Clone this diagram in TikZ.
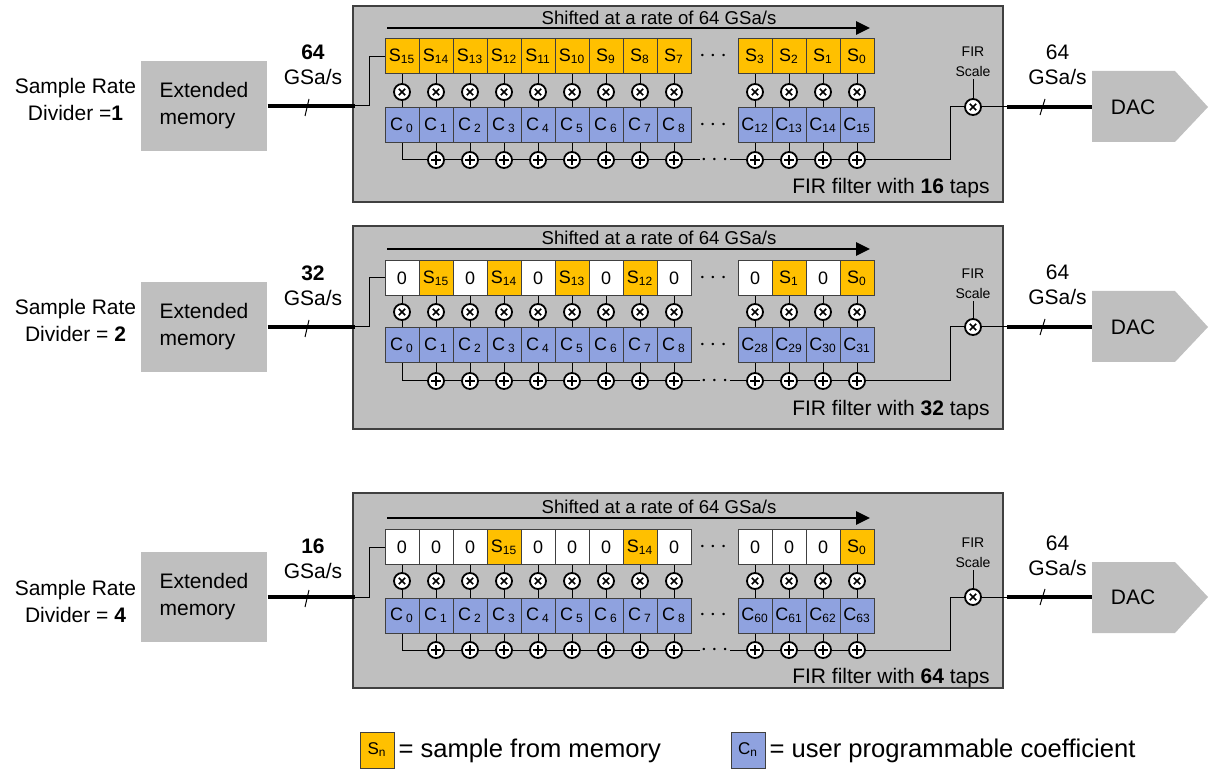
\documentclass[tikz,border=0pt]{standalone}
\usepackage{fontspec}
\setmainfont{Liberation Sans}
\usetikzlibrary{arrows.meta}
\definecolor{sgold}{HTML}{FFC000}
\definecolor{cblue}{HTML}{8FA2DF}
\definecolor{firgray}{HTML}{BFBFBF}
\definecolor{edgegray}{HTML}{404040}

\begin{document}
\begin{tikzpicture}[x=5pt, y=5pt, line width=0.5pt,
  panel/.style={fill=firgray, draw=edgegray, line width=0.6pt},
  scell/.style={draw=edgegray, fill=sgold, minimum width=17pt, minimum height=17.5pt, inner sep=0pt, font=\fontsize{9}{10}\selectfont},
  zcell/.style={scell, fill=white},
  ccell/.style={scell, fill=cblue},
  mul/.style={circle, draw, fill=white, line width=0.9pt, minimum size=8pt, inner sep=0pt, path picture={\draw[line width=0.8pt] ([shift={(-1.6pt,-1.6pt)}]path picture bounding box.center) -- ++(3.2pt,3.2pt) ++(-3.2pt,0pt) -- ++(3.2pt,-3.2pt);}},
  add/.style={circle, draw, fill=white, line width=0.9pt, minimum size=8pt, inner sep=0pt, path picture={\draw[line width=0.8pt] ([shift={(-2.4pt,0pt)}]path picture bounding box.center) -- ++(4.8pt,0pt) ++(-2.4pt,-2.4pt) -- ++(0pt,4.8pt);}},
  bus/.style={line width=1.6pt},
  shift arrow/.style={line width=1.4pt, -{Triangle[length=7pt,width=6.5pt]}},
  label text/.style={align=center, font=\fontsize{10.5}{13.5}\selectfont},
  membox/.style={fill=firgray, minimum width=63pt, minimum height=45pt, align=left, font=\fontsize{10.5}{13.5}\selectfont},
  rate text/.style={align=center, font=\fontsize{10.5}{12.5}\selectfont},
  shift text/.style={font=\fontsize{9.3}{11}\selectfont},
  scale text/.style={align=center, inner sep=1pt, font=\fontsize{7}{10}\selectfont},
  taps text/.style={anchor=east, inner sep=0pt, font=\fontsize{10.5}{12}\selectfont},
  dac text/.style={font=\fontsize{10.5}{12}\selectfont},
  dots/.style={inner sep=0pt, font=\fontsize{12}{12}\selectfont},
  gap dots/.style={dots, fill=firgray, inner sep=0.5pt},
  legend text/.style={anchor=west, inner sep=0pt, font=\fontsize{12.8}{14}\selectfont}]
\useasboundingbox (0,0) rectangle (121,-76.9);

% divider 1
\draw[panel] (35.3,-0.6) rectangle (100.3,-20.2);
\node[label text] (D1Lbl) at (7.55,-9.95) {Sample Rate\\Divider =\textbf{1}};
\node[membox] (D1Mem) at (20.4,-10.6) {Extended\\memory};
\node[rate text] (D1Rate) at (31.3,-6.45) {\textbf{64}\\GSa/s};
\coordinate (D1In) at (35.5,-10.6);
\coordinate (D1ShL) at (38.7,-2.8);
\coordinate (D1ShR) at (87.0,-2.8);
\draw[shift arrow] (D1ShL) -- (D1ShR);
\node[shift text] (D1Sh) at (65.9,-1.8) {Shifted at a rate of 64 GSa/s};
\node[scell] (D1T0) at (40.2,-5.65) {S\textsubscript{15}};
\node[scell] (D1T1) at (43.6,-5.65) {S\textsubscript{14}};
\node[scell] (D1T2) at (47.0,-5.65) {S\textsubscript{13}};
\node[scell] (D1T3) at (50.4,-5.65) {S\textsubscript{12}};
\node[scell] (D1T4) at (53.8,-5.65) {S\textsubscript{11}};
\node[scell] (D1T5) at (57.2,-5.65) {S\textsubscript{10}};
\node[scell] (D1T6) at (60.6,-5.65) {S\textsubscript{9}};
\node[scell] (D1T7) at (64.0,-5.65) {S\textsubscript{8}};
\node[scell] (D1T8) at (67.4,-5.65) {S\textsubscript{7}};
\node[dots] (D1DotT) at (71.3,-5.65) {$\cdots$};
\node[scell] (D1T9) at (75.5,-5.65) {S\textsubscript{3}};
\node[scell] (D1T10) at (78.9,-5.65) {S\textsubscript{2}};
\node[scell] (D1T11) at (82.3,-5.65) {S\textsubscript{1}};
\node[scell] (D1T12) at (85.7,-5.65) {S\textsubscript{0}};
\node[mul] (D1M0) at (40.2,-9.2) {};
\node[mul] (D1M1) at (43.6,-9.2) {};
\node[mul] (D1M2) at (47.0,-9.2) {};
\node[mul] (D1M3) at (50.4,-9.2) {};
\node[mul] (D1M4) at (53.8,-9.2) {};
\node[mul] (D1M5) at (57.2,-9.2) {};
\node[mul] (D1M6) at (60.6,-9.2) {};
\node[mul] (D1M7) at (64.0,-9.2) {};
\node[mul] (D1M8) at (67.4,-9.2) {};
\node[mul] (D1M9) at (75.5,-9.2) {};
\node[mul] (D1M10) at (78.9,-9.2) {};
\node[mul] (D1M11) at (82.3,-9.2) {};
\node[mul] (D1M12) at (85.7,-9.2) {};
\node[ccell] (D1C0) at (40.2,-12.55) {C\,\textsubscript{0}};
\node[ccell] (D1C1) at (43.6,-12.55) {C\,\textsubscript{1}};
\node[ccell] (D1C2) at (47.0,-12.55) {C\,\textsubscript{2}};
\node[ccell] (D1C3) at (50.4,-12.55) {C\,\textsubscript{3}};
\node[ccell] (D1C4) at (53.8,-12.55) {C\,\textsubscript{4}};
\node[ccell] (D1C5) at (57.2,-12.55) {C\,\textsubscript{5}};
\node[ccell] (D1C6) at (60.6,-12.55) {C\,\textsubscript{6}};
\node[ccell] (D1C7) at (64.0,-12.55) {C\,\textsubscript{7}};
\node[ccell] (D1C8) at (67.4,-12.55) {C\,\textsubscript{8}};
\node[dots] (D1DotC) at (71.3,-12.55) {$\cdots$};
\node[ccell] (D1C9) at (75.5,-12.55) {C\textsubscript{12}};
\node[ccell] (D1C10) at (78.9,-12.55) {C\textsubscript{13}};
\node[ccell] (D1C11) at (82.3,-12.55) {C\textsubscript{14}};
\node[ccell] (D1C12) at (85.7,-12.55) {C\textsubscript{15}};
\node[add] (D1A1) at (43.6,-16.0) {};
\node[add] (D1A2) at (47.0,-16.0) {};
\node[add] (D1A3) at (50.4,-16.0) {};
\node[add] (D1A4) at (53.8,-16.0) {};
\node[add] (D1A5) at (57.2,-16.0) {};
\node[add] (D1A6) at (60.6,-16.0) {};
\node[add] (D1A7) at (64.0,-16.0) {};
\node[add] (D1A8) at (67.4,-16.0) {};
\node[add] (D1A9) at (75.5,-16.0) {};
\node[add] (D1A10) at (78.9,-16.0) {};
\node[add] (D1A11) at (82.3,-16.0) {};
\node[add] (D1A12) at (85.7,-16.0) {};
\draw[bus] (D1Mem) -- (D1In);
\draw (30.5,-11.6) -- (30.9,-9.9);
\draw (D1In) -| (36.9,-5.65) -- (D1T0);
\draw (D1T0) -- (D1M0) -- (D1C0);
\draw (D1T1) -- (D1M1) -- (D1C1);
\draw (D1T2) -- (D1M2) -- (D1C2);
\draw (D1T3) -- (D1M3) -- (D1C3);
\draw (D1T4) -- (D1M4) -- (D1C4);
\draw (D1T5) -- (D1M5) -- (D1C5);
\draw (D1T6) -- (D1M6) -- (D1C6);
\draw (D1T7) -- (D1M7) -- (D1C7);
\draw (D1T8) -- (D1M8) -- (D1C8);
\draw (D1T9) -- (D1M9) -- (D1C9);
\draw (D1T10) -- (D1M10) -- (D1C10);
\draw (D1T11) -- (D1M11) -- (D1C11);
\draw (D1T12) -- (D1M12) -- (D1C12);
\draw (D1C0) |- (D1A1);
\draw (D1C1) -- (D1A1);
\draw (D1C2) -- (D1A2);
\draw (D1C3) -- (D1A3);
\draw (D1C4) -- (D1A4);
\draw (D1C5) -- (D1A5);
\draw (D1C6) -- (D1A6);
\draw (D1C7) -- (D1A7);
\draw (D1C8) -- (D1A8);
\draw (D1C9) -- (D1A9);
\draw (D1C10) -- (D1A10);
\draw (D1C11) -- (D1A11);
\draw (D1C12) -- (D1A12);
\draw (D1A1) -- (D1A2) -- (D1A3) -- (D1A4) -- (D1A5) -- (D1A6) -- (D1A7) -- (D1A8);
\draw (D1A8) -- node[gap dots] {$\cdots$} (D1A9);
\draw (D1A9) -- (D1A10) -- (D1A11) -- (D1A12);
\node[scale text] (D1FS) at (97.3,-6.2) {FIR\\Scale};
\node[mul] (D1F) at (97.3,-10.7) {};
\draw (D1FS) -- (D1F);
\draw (D1A12) -- (95.0,-16.0) |- (D1F);
\coordinate (D1Out) at (100.7,-10.7);
\coordinate (D1DACin) at (109.2,-10.7);
\fill[firgray] (109.2,-7.1) -- (117.5,-7.1) -- (120.8,-10.7) -- (117.5,-14.2) -- (109.2,-14.2) -- cycle;
\node[dac text] (D1DAC) at (113.3,-10.7) {DAC};
\draw (D1F) -- (D1Out);
\draw[bus] (D1Out) -- (D1DACin);
\draw (104.0,-11.5) -- (104.5,-9.9);
\node[rate text] (D1OutRate) at (105.75,-6.45) {64\\GSa/s};
\node[taps text] (D1Taps) at (99.0,-18.8) {FIR filter with \textbf{16} taps};

% divider 2
\draw[panel] (35.3,-22.6) rectangle (100.3,-42.9);
\node[label text] (D2Lbl) at (7.55,-32.0) {Sample Rate\\Divider = \textbf{2}};
\node[membox] (D2Mem) at (20.4,-32.7) {Extended\\memory};
\node[rate text] (D2Rate) at (31.3,-28.55) {\textbf{32}\\GSa/s};
\coordinate (D2In) at (35.5,-32.7);
\coordinate (D2ShL) at (38.7,-24.9);
\coordinate (D2ShR) at (87.0,-24.9);
\draw[shift arrow] (D2ShL) -- (D2ShR);
\node[shift text] (D2Sh) at (65.9,-23.8) {Shifted at a rate of 64 GSa/s};
\node[zcell] (D2T0) at (40.2,-27.8) {0};
\node[scell] (D2T1) at (43.6,-27.8) {S\textsubscript{15}};
\node[zcell] (D2T2) at (47.0,-27.8) {0};
\node[scell] (D2T3) at (50.4,-27.8) {S\textsubscript{14}};
\node[zcell] (D2T4) at (53.8,-27.8) {0};
\node[scell] (D2T5) at (57.2,-27.8) {S\textsubscript{13}};
\node[zcell] (D2T6) at (60.6,-27.8) {0};
\node[scell] (D2T7) at (64.0,-27.8) {S\textsubscript{12}};
\node[zcell] (D2T8) at (67.4,-27.8) {0};
\node[dots] (D2DotT) at (71.3,-27.8) {$\cdots$};
\node[zcell] (D2T9) at (75.5,-27.8) {0};
\node[scell] (D2T10) at (78.9,-27.8) {S\textsubscript{1}};
\node[zcell] (D2T11) at (82.3,-27.8) {0};
\node[scell] (D2T12) at (85.7,-27.8) {S\textsubscript{0}};
\node[mul] (D2M0) at (40.2,-31.2) {};
\node[mul] (D2M1) at (43.6,-31.2) {};
\node[mul] (D2M2) at (47.0,-31.2) {};
\node[mul] (D2M3) at (50.4,-31.2) {};
\node[mul] (D2M4) at (53.8,-31.2) {};
\node[mul] (D2M5) at (57.2,-31.2) {};
\node[mul] (D2M6) at (60.6,-31.2) {};
\node[mul] (D2M7) at (64.0,-31.2) {};
\node[mul] (D2M8) at (67.4,-31.2) {};
\node[mul] (D2M9) at (75.5,-31.2) {};
\node[mul] (D2M10) at (78.9,-31.2) {};
\node[mul] (D2M11) at (82.3,-31.2) {};
\node[mul] (D2M12) at (85.7,-31.2) {};
\node[ccell] (D2C0) at (40.2,-34.55) {C\,\textsubscript{0}};
\node[ccell] (D2C1) at (43.6,-34.55) {C\,\textsubscript{1}};
\node[ccell] (D2C2) at (47.0,-34.55) {C\,\textsubscript{2}};
\node[ccell] (D2C3) at (50.4,-34.55) {C\,\textsubscript{3}};
\node[ccell] (D2C4) at (53.8,-34.55) {C\,\textsubscript{4}};
\node[ccell] (D2C5) at (57.2,-34.55) {C\,\textsubscript{5}};
\node[ccell] (D2C6) at (60.6,-34.55) {C\,\textsubscript{6}};
\node[ccell] (D2C7) at (64.0,-34.55) {C\,\textsubscript{7}};
\node[ccell] (D2C8) at (67.4,-34.55) {C\,\textsubscript{8}};
\node[dots] (D2DotC) at (71.3,-34.55) {$\cdots$};
\node[ccell] (D2C9) at (75.5,-34.55) {C\textsubscript{28}};
\node[ccell] (D2C10) at (78.9,-34.55) {C\textsubscript{29}};
\node[ccell] (D2C11) at (82.3,-34.55) {C\textsubscript{30}};
\node[ccell] (D2C12) at (85.7,-34.55) {C\textsubscript{31}};
\node[add] (D2A1) at (43.6,-38.1) {};
\node[add] (D2A2) at (47.0,-38.1) {};
\node[add] (D2A3) at (50.4,-38.1) {};
\node[add] (D2A4) at (53.8,-38.1) {};
\node[add] (D2A5) at (57.2,-38.1) {};
\node[add] (D2A6) at (60.6,-38.1) {};
\node[add] (D2A7) at (64.0,-38.1) {};
\node[add] (D2A8) at (67.4,-38.1) {};
\node[add] (D2A9) at (75.5,-38.1) {};
\node[add] (D2A10) at (78.9,-38.1) {};
\node[add] (D2A11) at (82.3,-38.1) {};
\node[add] (D2A12) at (85.7,-38.1) {};
\draw[bus] (D2Mem) -- (D2In);
\draw (30.5,-33.7) -- (30.9,-32.0);
\draw (D2In) -| (36.9,-27.8) -- (D2T0);
\draw (D2T0) -- (D2M0) -- (D2C0);
\draw (D2T1) -- (D2M1) -- (D2C1);
\draw (D2T2) -- (D2M2) -- (D2C2);
\draw (D2T3) -- (D2M3) -- (D2C3);
\draw (D2T4) -- (D2M4) -- (D2C4);
\draw (D2T5) -- (D2M5) -- (D2C5);
\draw (D2T6) -- (D2M6) -- (D2C6);
\draw (D2T7) -- (D2M7) -- (D2C7);
\draw (D2T8) -- (D2M8) -- (D2C8);
\draw (D2T9) -- (D2M9) -- (D2C9);
\draw (D2T10) -- (D2M10) -- (D2C10);
\draw (D2T11) -- (D2M11) -- (D2C11);
\draw (D2T12) -- (D2M12) -- (D2C12);
\draw (D2C0) |- (D2A1);
\draw (D2C1) -- (D2A1);
\draw (D2C2) -- (D2A2);
\draw (D2C3) -- (D2A3);
\draw (D2C4) -- (D2A4);
\draw (D2C5) -- (D2A5);
\draw (D2C6) -- (D2A6);
\draw (D2C7) -- (D2A7);
\draw (D2C8) -- (D2A8);
\draw (D2C9) -- (D2A9);
\draw (D2C10) -- (D2A10);
\draw (D2C11) -- (D2A11);
\draw (D2C12) -- (D2A12);
\draw (D2A1) -- (D2A2) -- (D2A3) -- (D2A4) -- (D2A5) -- (D2A6) -- (D2A7) -- (D2A8);
\draw (D2A8) -- node[gap dots] {$\cdots$} (D2A9);
\draw (D2A9) -- (D2A10) -- (D2A11) -- (D2A12);
\node[scale text] (D2FS) at (97.3,-28.4) {FIR\\Scale};
\node[mul] (D2F) at (97.3,-32.7) {};
\draw (D2FS) -- (D2F);
\draw (D2A12) -- (95.0,-38.1) |- (D2F);
\coordinate (D2Out) at (100.7,-32.7);
\coordinate (D2DACin) at (109.2,-32.7);
\fill[firgray] (109.2,-29.1) -- (117.5,-29.1) -- (120.8,-32.7) -- (117.5,-36.2) -- (109.2,-36.2) -- cycle;
\node[dac text] (D2DAC) at (113.3,-32.7) {DAC};
\draw (D2F) -- (D2Out);
\draw[bus] (D2Out) -- (D2DACin);
\draw (104.0,-33.5) -- (104.5,-31.9);
\node[rate text] (D2OutRate) at (105.75,-28.45) {64\\GSa/s};
\node[taps text] (D2Taps) at (99.0,-41.0) {FIR filter with \textbf{32} taps};

% divider 4
\draw[panel] (35.3,-49.3) rectangle (100.3,-68.8);
\node[label text] (D3Lbl) at (7.55,-60.15) {Sample Rate\\Divider = \textbf{4}};
\node[membox] (D3Mem) at (20.4,-59.7) {Extended\\memory};
\node[rate text] (D3Rate) at (31.3,-55.9) {\textbf{16}\\GSa/s};
\coordinate (D3In) at (35.5,-59.7);
\coordinate (D3ShL) at (38.7,-51.8);
\coordinate (D3ShR) at (87.0,-51.8);
\draw[shift arrow] (D3ShL) -- (D3ShR);
\node[shift text] (D3Sh) at (65.9,-50.7) {Shifted at a rate of 64 GSa/s};
\node[zcell] (D3T0) at (40.2,-54.7) {0};
\node[zcell] (D3T1) at (43.6,-54.7) {0};
\node[zcell] (D3T2) at (47.0,-54.7) {0};
\node[scell] (D3T3) at (50.4,-54.7) {S\textsubscript{15}};
\node[zcell] (D3T4) at (53.8,-54.7) {0};
\node[zcell] (D3T5) at (57.2,-54.7) {0};
\node[zcell] (D3T6) at (60.6,-54.7) {0};
\node[scell] (D3T7) at (64.0,-54.7) {S\textsubscript{14}};
\node[zcell] (D3T8) at (67.4,-54.7) {0};
\node[dots] (D3DotT) at (71.3,-54.7) {$\cdots$};
\node[zcell] (D3T9) at (75.5,-54.7) {0};
\node[zcell] (D3T10) at (78.9,-54.7) {0};
\node[zcell] (D3T11) at (82.3,-54.7) {0};
\node[scell] (D3T12) at (85.7,-54.7) {S\textsubscript{0}};
\node[mul] (D3M0) at (40.2,-58.1) {};
\node[mul] (D3M1) at (43.6,-58.1) {};
\node[mul] (D3M2) at (47.0,-58.1) {};
\node[mul] (D3M3) at (50.4,-58.1) {};
\node[mul] (D3M4) at (53.8,-58.1) {};
\node[mul] (D3M5) at (57.2,-58.1) {};
\node[mul] (D3M6) at (60.6,-58.1) {};
\node[mul] (D3M7) at (64.0,-58.1) {};
\node[mul] (D3M8) at (67.4,-58.1) {};
\node[mul] (D3M9) at (75.5,-58.1) {};
\node[mul] (D3M10) at (78.9,-58.1) {};
\node[mul] (D3M11) at (82.3,-58.1) {};
\node[mul] (D3M12) at (85.7,-58.1) {};
\node[ccell] (D3C0) at (40.2,-61.55) {C\,\textsubscript{0}};
\node[ccell] (D3C1) at (43.6,-61.55) {C\,\textsubscript{1}};
\node[ccell] (D3C2) at (47.0,-61.55) {C\,\textsubscript{2}};
\node[ccell] (D3C3) at (50.4,-61.55) {C\,\textsubscript{3}};
\node[ccell] (D3C4) at (53.8,-61.55) {C\,\textsubscript{4}};
\node[ccell] (D3C5) at (57.2,-61.55) {C\,\textsubscript{5}};
\node[ccell] (D3C6) at (60.6,-61.55) {C\,\textsubscript{6}};
\node[ccell] (D3C7) at (64.0,-61.55) {C\,\textsubscript{7}};
\node[ccell] (D3C8) at (67.4,-61.55) {C\,\textsubscript{8}};
\node[dots] (D3DotC) at (71.3,-61.55) {$\cdots$};
\node[ccell] (D3C9) at (75.5,-61.55) {C\textsubscript{60}};
\node[ccell] (D3C10) at (78.9,-61.55) {C\textsubscript{61}};
\node[ccell] (D3C11) at (82.3,-61.55) {C\textsubscript{62}};
\node[ccell] (D3C12) at (85.7,-61.55) {C\textsubscript{63}};
\node[add] (D3A1) at (43.6,-65.0) {};
\node[add] (D3A2) at (47.0,-65.0) {};
\node[add] (D3A3) at (50.4,-65.0) {};
\node[add] (D3A4) at (53.8,-65.0) {};
\node[add] (D3A5) at (57.2,-65.0) {};
\node[add] (D3A6) at (60.6,-65.0) {};
\node[add] (D3A7) at (64.0,-65.0) {};
\node[add] (D3A8) at (67.4,-65.0) {};
\node[add] (D3A9) at (75.5,-65.0) {};
\node[add] (D3A10) at (78.9,-65.0) {};
\node[add] (D3A11) at (82.3,-65.0) {};
\node[add] (D3A12) at (85.7,-65.0) {};
\draw[bus] (D3Mem) -- (D3In);
\draw (30.5,-60.7) -- (30.9,-59.0);
\draw (D3In) -| (36.9,-54.7) -- (D3T0);
\draw (D3T0) -- (D3M0) -- (D3C0);
\draw (D3T1) -- (D3M1) -- (D3C1);
\draw (D3T2) -- (D3M2) -- (D3C2);
\draw (D3T3) -- (D3M3) -- (D3C3);
\draw (D3T4) -- (D3M4) -- (D3C4);
\draw (D3T5) -- (D3M5) -- (D3C5);
\draw (D3T6) -- (D3M6) -- (D3C6);
\draw (D3T7) -- (D3M7) -- (D3C7);
\draw (D3T8) -- (D3M8) -- (D3C8);
\draw (D3T9) -- (D3M9) -- (D3C9);
\draw (D3T10) -- (D3M10) -- (D3C10);
\draw (D3T11) -- (D3M11) -- (D3C11);
\draw (D3T12) -- (D3M12) -- (D3C12);
\draw (D3C0) |- (D3A1);
\draw (D3C1) -- (D3A1);
\draw (D3C2) -- (D3A2);
\draw (D3C3) -- (D3A3);
\draw (D3C4) -- (D3A4);
\draw (D3C5) -- (D3A5);
\draw (D3C6) -- (D3A6);
\draw (D3C7) -- (D3A7);
\draw (D3C8) -- (D3A8);
\draw (D3C9) -- (D3A9);
\draw (D3C10) -- (D3A10);
\draw (D3C11) -- (D3A11);
\draw (D3C12) -- (D3A12);
\draw (D3A1) -- (D3A2) -- (D3A3) -- (D3A4) -- (D3A5) -- (D3A6) -- (D3A7) -- (D3A8);
\draw (D3A8) -- node[gap dots] {$\cdots$} (D3A9);
\draw (D3A9) -- (D3A10) -- (D3A11) -- (D3A12);
\node[scale text] (D3FS) at (97.3,-55.3) {FIR\\Scale};
\node[mul] (D3F) at (97.3,-59.7) {};
\draw (D3FS) -- (D3F);
\draw (D3A12) -- (95.0,-65.0) |- (D3F);
\coordinate (D3Out) at (100.7,-59.7);
\coordinate (D3DACin) at (109.2,-59.7);
\fill[firgray] (109.2,-56.2) -- (117.5,-56.2) -- (120.8,-59.7) -- (117.5,-63.3) -- (109.2,-63.3) -- cycle;
\node[dac text] (D3DAC) at (113.3,-59.7) {DAC};
\draw (D3F) -- (D3Out);
\draw[bus] (D3Out) -- (D3DACin);
\draw (104.0,-60.5) -- (104.5,-58.9);
\node[rate text] (D3OutRate) at (105.75,-55.55) {64\\GSa/s};
\node[taps text] (D3Taps) at (99.0,-67.8) {FIR filter with \textbf{64} taps};

% legend
\node[scell, minimum height=18pt, font=\fontsize{8.5}{10}\selectfont] (LegS) at (37.7,-75.0) {S\textsubscript{n}};
\node[legend text] (LegSText) at (39.8,-75.1) {= sample from memory};
\node[ccell, minimum height=18pt, font=\fontsize{8.5}{10}\selectfont] (LegC) at (74.8,-75.0) {C\textsubscript{n}};
\node[legend text] (LegCText) at (76.9,-75.1) {= user programmable coefficient};
\end{tikzpicture}
\end{document}
